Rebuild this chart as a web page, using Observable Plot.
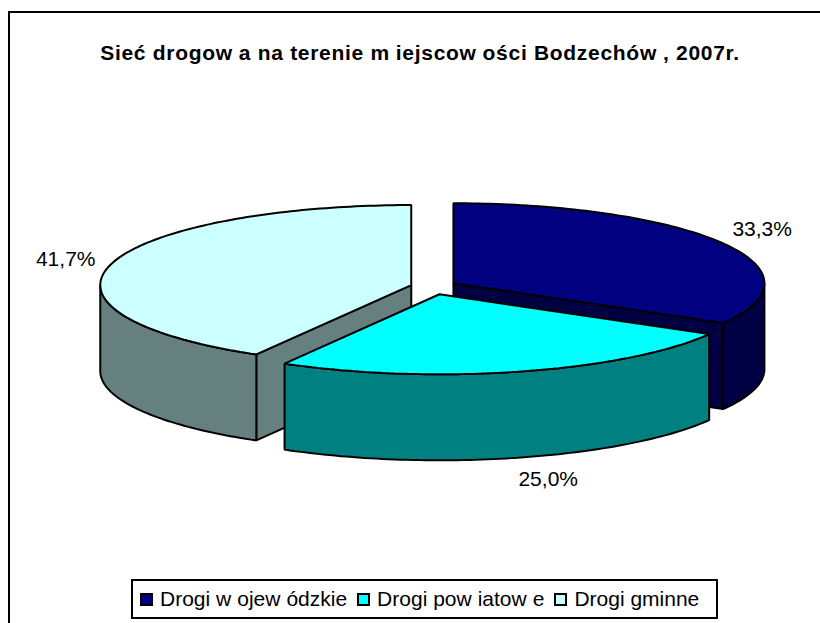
<!DOCTYPE html>
<html><head><meta charset="utf-8">
<script src="https://cdn.jsdelivr.net/npm/d3@7"></script>
<script src="https://cdn.jsdelivr.net/npm/@observablehq/plot@0.6"></script>
<style>
html,body{margin:0;padding:0;background:#fff;overflow:hidden}
#page{position:relative;width:820px;height:623px;overflow:hidden;font-family:"Liberation Sans",Arial,sans-serif;color:#000}
#frame{position:absolute;left:8px;top:11px;width:830px;height:640px;border:2px solid #000;box-sizing:border-box}
#title{position:absolute;left:0;top:40px;width:840px;text-align:center;font-weight:bold;font-size:21px;letter-spacing:.7px;line-height:26px;white-space:nowrap}
#title b{font-weight:bold;margin-right:6px}
#chart{position:absolute;left:0;top:80px}
#legend{position:absolute;left:131px;top:579px;width:587px;height:40px;box-sizing:border-box;border:2px solid #000;display:flex;align-items:center;padding-left:7px;font-size:21px;white-space:nowrap;background:#fff}
#legend div{margin-right:10px;display:flex;align-items:center}
#legend span.k{display:inline-block;width:13px;height:13px;box-sizing:border-box;border:2px solid #000;margin-right:7px}
#legend i{font-style:normal;margin-right:6px}
</style></head><body>
<div id="page"><div id="frame"></div>
<div id="title"></div><div id="chart"></div><div id="legend"></div></div>
<script>
const titleText = "Sieć drogowa na terenie miejscowości Bodzechów, 2007r.";
const categories = ["Drogi wojewódzkie","Drogi powiatowe","Drogi gminne"];
const shares = [33.3, 25.0, 41.7];
const shareLabels = ["33,3%","25,0%","41,7%"];
const topColors = ["#000080","#00FFFF","#CCFFFF"];
const sideColors = ["#000042","#008080","#668080"];
const explodeX = 0.074, explodeY = 0.094, depth = 1.075;
const labelRadiusX = [1.147,1.34,1.15];
const labelRadiusY = [1.35,2.39,1.25];

const total = d3.sum(shares);
const toRad = v => v/total*2*Math.PI;
let acc = 0;
const slices = categories.map((name,i)=>{
  const a0 = toRad(acc); acc += shares[i]; const a1 = toRad(acc);
  const m = (a0+a1)/2;
  return {name,i,a0,a1,m,cx:explodeX*Math.sin(m),cy:explodeY*Math.cos(m)};
});
const pt = (s,a,dz=0)=>({x:s.cx+Math.sin(a),y:s.cy+Math.cos(a)-dz});
const arc = (s,a0,a1,dz=0)=>{
  const n = Math.max(2,Math.ceil(Math.abs(a1-a0)/0.02));
  return d3.range(n+1).map(k=>pt(s,a0+(a1-a0)*k/n,dz));
};
const apex = (s,dz=0)=>({x:s.cx,y:s.cy-dz});
function sideFace(s){
  const a0=Math.max(s.a0,Math.PI/2), a1=Math.min(s.a1,3*Math.PI/2);
  return a1>a0 ? [...arc(s,a0,a1),...arc(s,a1,a0,depth)] : null;
}
function cutFace(s,a){
  return [apex(s),pt(s,a),pt(s,a,depth),apex(s,depth)];
}
const topFace = s=>[apex(s),...arc(s,s.a0,s.a1)];
const [woj,pow,gmi] = slices;
const faces = [
  [cutFace(gmi,gmi.a0),sideColors[2]],
  [sideFace(gmi),sideColors[2]],
  [topFace(gmi),topColors[2]],
  [cutFace(woj,woj.a1),sideColors[0]],
  [sideFace(woj),sideColors[0]],
  [topFace(woj),topColors[0]],
  [sideFace(pow),sideColors[1]],
  [topFace(pow),topColors[1]]
];
const labels = slices.map((s,i)=>({
  x:s.cx+labelRadiusX[i]*Math.sin(s.m),
  y:s.cy+labelRadiusY[i]*Math.cos(s.m),
  t:shareLabels[i]
}));
const plot = Plot.plot({
  width:820,height:490,margin:0,
  x:{domain:[-1,1],range:[122,744],axis:null},
  y:{domain:[1,-1],range:[126.5,286.5],axis:null},
  marks:[
    ...faces.map(([d,c])=>Plot.line(d,{x:"x",y:"y",curve:"linear-closed",fill:c,stroke:"#000",strokeWidth:2,strokeLinejoin:"miter"})),
    Plot.text(labels,{x:"x",y:"y",text:"t",fontSize:21,fill:"#000",fontFamily:"Liberation Sans"})
  ]
});
document.getElementById("chart").append(plot);
// the reference's renderer leaves a gap after w and m; keep the text whole and reproduce the gap
const spaced = (el,str,tag,re)=>{
  str.split(re).forEach((part,i)=>{
    if(re.test(part)){const g=document.createElement(tag);g.textContent=part;el.append(g);}
    else el.append(part);
  });
};
spaced(document.getElementById("title"),titleText,"b",/([wm])/);
const lg = document.getElementById("legend");
categories.forEach((c,i)=>{
  const e=document.createElement("div");
  const k=document.createElement("span");k.className="k";k.style.background=topColors[i];
  const t=document.createElement("span");
  spaced(t,c,"i",/(w)/);
  e.append(k,t);lg.append(e);
});
</script></body></html>
